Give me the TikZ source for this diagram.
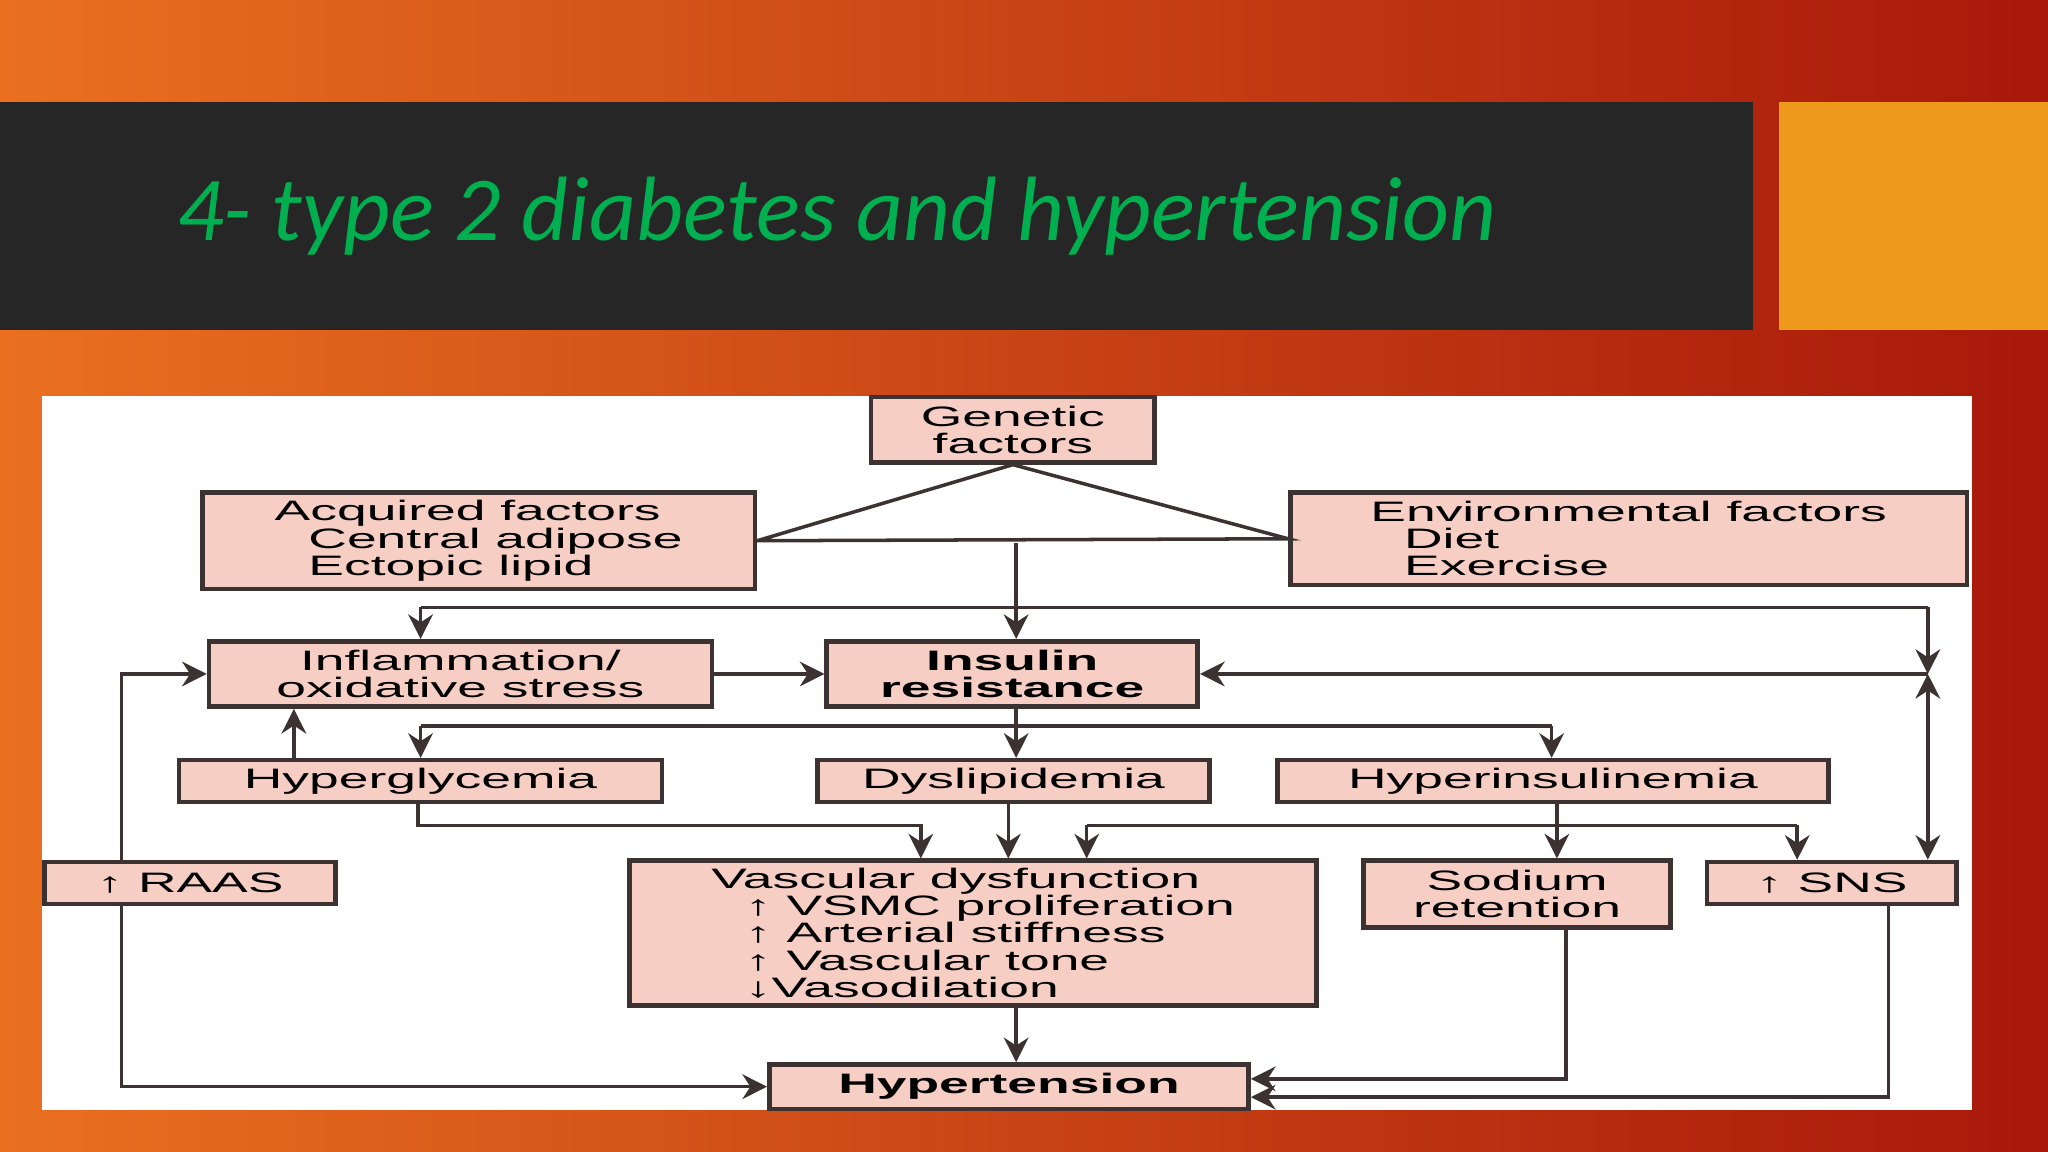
\documentclass[tikz,border=0pt]{standalone}
\usepackage{fontspec}
\setmainfont{Liberation Sans}
\newfontfamily\titlefont{Carlito}
\newfontfamily\boxfont[FakeStretch=1.9]{Liberation Sans}
\usetikzlibrary{positioning, arrows.meta}
\definecolor{boxpink}{RGB}{246,206,196}
\definecolor{boxline}{RGB}{60,50,50}
\definecolor{bandgray}{RGB}{38,38,38}
\definecolor{titlegreen}{RGB}{0,176,80}
\definecolor{squareorange}{RGB}{238,152,28}
\def\u{0.013061cm}

\begin{document}
\begin{tikzpicture}[x=0.013061cm, y=-0.013061cm]
    % Setup the styles
    \tikzset{box/.style={draw=boxline, fill=boxpink, line width=1.3pt,
                         inner sep=0pt, align=center,
                         font=\boxfont\fontsize{8}{7.7}\selectfont},
             link/.style={draw=boxline, line width=1pt},
             arrow/.style={link, -{Stealth[length=7pt, width=7pt]}}}
    % Background
    \useasboundingbox (0,0) rectangle (1568,882);
    \shade[left color={rgb,255:red,234;green,112;blue,32},
           right color={rgb,255:red,168;green,24;blue,10}] (0,0) rectangle (1568,882);
    \fill[bandgray] (0,78) rectangle (1342,253);
    \fill[squareorange] (1362,78) rectangle (1568,253);
    \node[anchor=base west, text=titlegreen, inner sep=0pt,
          font=\titlefont\itshape\fontsize{26}{32}\selectfont] (title) at (135,184)
        {4- type 2 diabetes and hypertension};
    \fill[white] (32,303) rectangle (1510,850);
    % Draw the boxes
    \node[box, minimum width=217*\u, minimum height=50*\u] (genetic) at (775.5,329) {Genetic\\factors};
    \node[box, minimum width=423*\u, minimum height=74*\u, align=left] (acquired) at (366.5,414)
        {Acquired factors\\\hspace*{1.2em}Central adipose\\\hspace*{1.2em}Ectopic lipid};
    \node[box, minimum width=518*\u, minimum height=71*\u, align=left] (environ) at (1247,412.5)
        {Environmental factors\\\hspace*{1.2em}Diet\\\hspace*{1.2em}Exercise};
    \node[box, minimum width=385*\u, minimum height=50*\u] (inflam) at (352.5,516) {Inflammation/\\oxidative stress};
    \node[box, minimum width=284*\u, minimum height=50*\u, font=\boxfont\bfseries\fontsize{8}{7.7}\selectfont] (insulin) at (775,516)
        {Insulin\\resistance};
    \node[box, minimum width=370*\u, minimum height=32*\u] (glyc) at (322,598) {Hyperglycemia};
    \node[box, minimum width=300*\u, minimum height=32*\u] (lipid) at (776,598) {Dyslipidemia};
    \node[box, minimum width=422*\u, minimum height=32*\u] (hyperins) at (1189,598) {Hyperinsulinemia};
    \node[box, minimum width=223*\u, minimum height=32*\u] (raas) at (145.5,676) {↑ RAAS};
    \node[box, minimum width=526*\u, minimum height=111*\u, align=left] (vasc) at (745,714.5)
        {Vascular dysfunction\\\hspace*{1.2em}↑ VSMC proliferation\\\hspace*{1.2em}↑ Arterial stiffness\\%
         \hspace*{1.2em}↑ Vascular tone\\\hspace*{1.2em}↓Vasodilation};
    \node[box, minimum width=235*\u, minimum height=51*\u] (sodium) at (1161.5,684.5) {Sodium\\retention};
    \node[box, minimum width=191*\u, minimum height=32*\u] (sns) at (1402.5,676) {↑ SNS};
    \node[box, minimum width=367*\u, minimum height=34*\u, font=\boxfont\bfseries\fontsize{8}{7.7}\selectfont] (hyper) at (772.5,832)
        {Hypertension};
    \coordinate (junction) at (1476,516);
    % Connect the boxes
    \draw[link] (acquired.east) -- (genetic.south) -- (environ.west) -- (acquired.east);
    \draw[arrow] (778,416) -- (insulin.north -| 778,0);
    \draw[link] (322,465) -- (1476,465);
    \draw[arrow] (322,465) -- (inflam.north -| 322,0);
    \draw[arrow] (1476,465) -- (junction);
    \draw[arrow] (junction) -- (insulin.east);
    \draw[link, {Stealth[length=7pt, width=7pt]}-{Stealth[length=7pt, width=7pt]}] (junction) -- (sns.north -| junction);
    \draw[arrow] (inflam.east) -- (insulin.west);
    \draw[arrow] (glyc.north -| 225,0) -- (inflam.south -| 225,0);
    \draw[arrow] (insulin.south -| 778,0) -- (lipid.north -| 778,0);
    \draw[link] (322,556) -- (1188,556);
    \draw[arrow] (322,556) -- (glyc.north -| 322,0);
    \draw[arrow] (1188,556) -- (hyperins.north -| 1188,0);
    \draw[arrow] (glyc.south -| 320,0) |- (705,632) -- (vasc.north -| 705,0);
    \draw[arrow] (lipid.south -| 772,0) -- (vasc.north -| 772,0);
    \draw[arrow] (hyperins.south -| 1192,0) -- (sodium.north -| 1192,0);
    \draw[link] (832,632) -- (1376,632);
    \draw[arrow] (832,632) -- (vasc.north -| 832,0);
    \draw[arrow] (1376,632) -- (sns.north -| 1376,0);
    \draw[arrow] (raas.north -| 93,0) |- (inflam.west);
    \draw[arrow] (raas.south -| 93,0) |- (hyper.west);
    \draw[arrow] (vasc.south -| 778,0) -- (hyper.north -| 778,0);
    \draw[arrow] (sodium.south -| 1199,0) |- (hyper.east |- 0,826);
    \draw[arrow] (sns.south -| 1446,0) |- (hyper.east |- 0,840);
\end{tikzpicture}
\end{document}
